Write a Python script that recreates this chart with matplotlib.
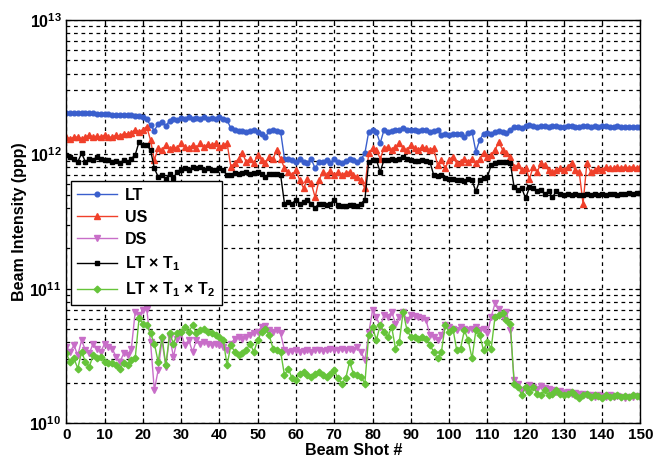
import numpy as np
import matplotlib
matplotlib.use('Agg')
import matplotlib.pyplot as plt
from matplotlib.ticker import LogLocator, FuncFormatter, NullFormatter

# data, shots 0..150
shots = np.arange(0, 151)

# LT, units of 1e12 ppp
lt = [2.04, 2.04, 2.03, 2.03, 2.02, 2.03, 2.02, 2.02, 2.01, 2.01,
      2.00, 1.99, 1.98, 1.98, 1.97, 1.96, 1.95, 1.95, 1.94, 1.93,
      1.91, 1.82, 1.65, 1.50, 1.69, 1.75, 1.63, 1.78, 1.82, 1.80,
      1.87, 1.82, 1.89, 1.85, 1.87, 1.85, 1.89, 1.85, 1.87, 1.85,
      1.90, 1.85, 1.80, 1.56, 1.52, 1.50, 1.50, 1.47, 1.50, 1.52,
      1.47, 1.43, 1.34, 1.50, 1.52, 1.50, 1.47, 0.93, 0.92, 0.91,
      0.88, 0.93, 0.88, 0.87, 0.92, 0.79, 0.88, 0.88, 0.91, 0.86,
      0.93, 0.88, 0.86, 0.89, 0.93, 0.91, 0.88, 0.92, 1.02, 1.47,
      1.52, 1.47, 1.21, 1.52, 1.47, 1.50, 1.52, 1.53, 1.56, 1.53,
      1.52, 1.52, 1.50, 1.52, 1.52, 1.47, 1.50, 1.52, 1.39, 1.43,
      1.39, 1.43, 1.43, 1.43, 1.34, 1.45, 1.47, 1.05, 1.28, 1.43,
      1.45, 1.43, 1.47, 1.50, 1.47, 1.45, 1.53, 1.61, 1.60, 1.58,
      1.62, 1.65, 1.62, 1.60, 1.62, 1.63, 1.60, 1.62, 1.63, 1.61,
      1.60, 1.62, 1.64, 1.61, 1.60, 1.62, 1.63, 1.61, 1.62, 1.60,
      1.62, 1.64, 1.61, 1.60, 1.62, 1.61, 1.59, 1.60, 1.61, 1.59,
      1.60]

# US, units of 1e12 ppp
us = [1.34, 1.31, 1.34, 1.35, 1.31, 1.35, 1.39, 1.35, 1.37, 1.35,
      1.39, 1.34, 1.35, 1.39, 1.37, 1.43, 1.42, 1.45, 1.53, 1.47,
      1.53, 1.61, 1.28, 0.91, 1.11, 1.08, 1.17, 1.09, 1.14, 1.11,
      1.21, 1.14, 1.11, 1.17, 1.11, 1.21, 1.14, 1.19, 1.17, 1.21,
      1.14, 1.17, 1.21, 0.81, 0.86, 0.93, 1.02, 0.88, 0.93, 0.86,
      0.99, 0.91, 0.86, 0.96, 0.93, 1.08, 0.93, 0.79, 0.74, 0.70,
      0.76, 0.64, 0.56, 0.66, 0.61, 0.48, 0.64, 0.74, 0.70, 0.75,
      0.70, 0.74, 0.70, 0.73, 0.74, 0.70, 0.68, 0.64, 0.56, 1.02,
      1.11, 1.08, 0.93, 1.11, 1.14, 1.08, 1.14, 1.21, 1.11, 1.08,
      1.17, 1.11, 1.08, 1.14, 1.11, 1.08, 1.11, 0.83, 0.91, 0.79,
      0.91, 0.96, 0.86, 0.88, 0.93, 0.88, 0.93, 0.86, 0.93, 1.02,
      0.96, 0.99, 1.08, 1.24, 1.08, 1.02, 0.96, 0.81, 0.83, 0.76,
      0.79, 0.66, 0.81, 0.74, 0.86, 0.83, 0.76, 0.74, 0.76, 0.79,
      0.76, 0.81, 0.86, 0.76, 0.74, 0.43, 0.86, 0.74, 0.76, 0.79,
      0.76, 0.81, 0.79, 0.79, 0.81, 0.79, 0.81, 0.79, 0.81, 0.79,
      0.81]

# DS, units of 1e10 ppp
ds = [3.70, 3.39, 3.80, 3.20, 4.14, 3.49, 3.30, 3.91, 3.59, 3.39,
      3.91, 3.70, 3.59, 3.11, 2.86, 3.30, 3.20, 3.59, 6.74, 6.36,
      6.93, 7.13, 4.03, 1.76, 2.48, 4.14, 2.62, 4.39, 3.11, 4.26,
      4.65, 3.80, 4.14, 3.39, 4.14, 3.91, 4.03, 3.91, 3.80, 3.91,
      3.80, 3.70, 3.49, 3.91, 4.26, 4.39, 4.26, 4.39, 4.52, 4.65,
      4.78, 5.21, 5.27, 4.92, 4.78, 4.92, 4.65, 3.49, 3.39, 3.45,
      3.49, 3.39, 3.45, 3.49, 3.39, 3.49, 3.53, 3.45, 3.49, 3.59,
      3.49, 3.53, 3.59, 3.49, 3.59, 3.49, 3.70, 3.39, 2.94, 4.65,
      6.93, 6.18, 5.21, 6.36, 6.18, 6.74, 5.51, 6.18, 6.74, 5.84,
      6.36, 6.25, 6.18, 6.11, 5.84, 4.51, 4.39, 4.14, 4.51, 5.36,
      5.21, 5.06, 4.92, 5.21, 5.06, 4.92, 5.06, 5.21, 4.92, 5.06,
      4.65, 6.18, 7.77, 7.13, 6.18, 6.74, 4.92, 2.09, 1.97, 1.76,
      1.81, 1.92, 1.86, 1.81, 1.88, 1.84, 1.78, 1.76, 1.71, 1.74,
      1.68, 1.71, 1.66, 1.68, 1.64, 1.66, 1.61, 1.61, 1.57, 1.61,
      1.59, 1.57, 1.61, 1.57, 1.59, 1.57, 1.55, 1.57, 1.57, 1.59,
      1.57]

# LT x T1, units of 1e12 ppp
lt_t1 = [0.99, 0.96, 0.93, 0.88, 1.02, 0.88, 0.93, 0.91, 0.96, 0.93,
         0.91, 0.91, 0.88, 0.89, 0.86, 0.91, 0.88, 0.93, 0.99, 1.24,
         1.17, 1.17, 1.08, 0.79, 0.68, 0.70, 0.66, 0.72, 0.67, 0.74,
         0.76, 0.79, 0.76, 0.81, 0.79, 0.81, 0.76, 0.79, 0.76, 0.76,
         0.79, 0.76, 0.70, 0.70, 0.73, 0.72, 0.73, 0.74, 0.71, 0.73,
         0.74, 0.72, 0.68, 0.72, 0.71, 0.71, 0.70, 0.43, 0.44, 0.43,
         0.46, 0.43, 0.44, 0.46, 0.43, 0.40, 0.43, 0.43, 0.42, 0.43,
         0.46, 0.42, 0.41, 0.41, 0.42, 0.42, 0.41, 0.43, 0.46, 0.88,
         0.91, 0.91, 0.74, 0.91, 0.91, 0.92, 0.91, 0.92, 0.95, 0.92,
         0.91, 0.90, 0.90, 0.91, 0.90, 0.88, 0.70, 0.69, 0.70, 0.67,
         0.66, 0.66, 0.64, 0.65, 0.63, 0.66, 0.64, 0.53, 0.64, 0.67,
         0.68, 0.83, 0.86, 0.88, 0.88, 0.88, 0.86, 0.57, 0.54, 0.56,
         0.47, 0.57, 0.56, 0.53, 0.54, 0.51, 0.53, 0.48, 0.53, 0.51,
         0.50, 0.51, 0.50, 0.51, 0.50, 0.50, 0.51, 0.50, 0.51, 0.50,
         0.51, 0.50, 0.51, 0.51, 0.50, 0.51, 0.51, 0.52, 0.51, 0.52,
         0.52]

# LT x T1 x T2, units of 1e10 ppp
lt_t1_t2 = [3.30, 2.86, 3.03, 2.55, 3.39, 2.86, 2.62, 3.20, 3.03, 3.11,
            2.86, 2.78, 2.78, 2.70, 2.55, 2.78, 2.70, 2.94, 3.03, 6.01,
            5.51, 5.36, 4.65, 3.91, 2.86, 4.39, 2.70, 4.65, 3.91, 4.65,
            4.78, 5.21, 4.78, 5.36, 4.65, 4.92, 5.06, 4.78, 4.65, 4.52,
            4.39, 4.14, 2.70, 3.80, 3.39, 3.20, 3.30, 3.49, 3.91, 3.39,
            4.14, 4.78, 5.06, 4.52, 3.59, 3.49, 3.39, 2.27, 2.55, 2.15,
            2.09, 2.34, 2.41, 2.27, 2.21, 2.34, 2.41, 2.27, 2.21, 2.34,
            2.48, 2.15, 1.97, 2.15, 2.86, 2.34, 2.27, 2.21, 1.97, 4.51,
            5.21, 4.14, 5.36, 4.78, 4.39, 5.21, 3.59, 4.03, 6.74, 4.92,
            4.39, 4.39, 4.26, 4.39, 4.26, 3.80, 3.39, 3.03, 3.39, 5.36,
            4.78, 5.06, 3.49, 3.59, 4.92, 4.14, 3.03, 4.92, 4.51, 3.49,
            4.03, 3.59, 6.18, 6.36, 6.55, 5.84, 5.51, 1.97, 1.86, 1.61,
            1.86, 1.71, 1.86, 1.66, 1.61, 1.76, 1.61, 1.66, 1.76, 1.66,
            1.61, 1.66, 1.71, 1.61, 1.55, 1.61, 1.66, 1.57, 1.61, 1.59,
            1.55, 1.61, 1.57, 1.59, 1.61, 1.57, 1.59, 1.57, 1.61, 1.59,
            1.60]

for s in (lt, us, ds, lt_t1, lt_t1_t2):
    assert len(s) == len(shots), len(s)

plt.rcParams['font.family'] = ['Liberation Sans', 'DejaVu Sans']
plt.rcParams['font.weight'] = 'bold'
plt.rcParams['mathtext.fontset'] = 'custom'
plt.rcParams['mathtext.rm'] = 'Liberation Sans:bold'
plt.rcParams['mathtext.bf'] = 'Liberation Sans:bold'
plt.rcParams['mathtext.it'] = 'Liberation Sans:bold'

fig = plt.figure(figsize=(6.63, 4.66), dpi=100)
ax = fig.add_axes([0.100, 0.092, 0.866, 0.865])

ax.plot(shots, np.array(lt) * 1e12, '-o', color='#3a5fcd', ms=3.4, lw=1, label='LT')
ax.plot(shots, np.array(us) * 1e12, '-^', color='#f0402a', ms=4, lw=1, label='US')
ax.plot(shots, np.array(ds) * 1e10, '-v', color='#c86ec8', ms=4, lw=1, label='DS')
ax.plot(shots, np.array(lt_t1) * 1e12, '-s', color='black', ms=3.4, lw=1,
        label=r'LT $\times$ T$_1$')
ax.plot(shots, np.array(lt_t1_t2) * 1e10, '-D', color='#66c43a', ms=3.4, lw=1,
        label=r'LT $\times$ T$_1$ $\times$ T$_2$')

ax.set_yscale('log')
ax.set_ylim(1e10, 1e13)
ax.set_xlim(0, 150)
ax.set_xticks(range(0, 151, 10))
ax.yaxis.set_major_locator(LogLocator(base=10))
ax.yaxis.set_minor_locator(LogLocator(base=10, subs=range(2, 10)))
ax.yaxis.set_major_formatter(FuncFormatter(lambda v, p: r'$\mathbf{10^{%d}}$' % round(np.log10(v))))
ax.yaxis.set_minor_formatter(NullFormatter())

ax.grid(which='both', color='black', linestyle=(0, (3, 3)), linewidth=0.9)
ax.tick_params(which='both', direction='in', top=True, right=True)
ax.tick_params(axis='x', labelsize=11)
ax.tick_params(axis='y', labelsize=11.5)
for sp in ax.spines.values():
    sp.set_linewidth(1.0)

ax.set_xlabel('Beam Shot #', fontsize=11.5, fontweight='bold', labelpad=1)
ax.set_ylabel('Beam Intensity (ppp)', fontsize=11.5, fontweight='bold', labelpad=2)

leg = ax.legend(loc='upper left', bbox_to_anchor=(0.008, 0.600), fontsize=11.5,
                fancybox=False, edgecolor='black', framealpha=1, handlelength=2.5,
                handletextpad=0.5, borderaxespad=0, labelspacing=0.45,
                borderpad=0.4)
leg.get_frame().set_linewidth(1.0)

fig.savefig('out.png', dpi=100)
